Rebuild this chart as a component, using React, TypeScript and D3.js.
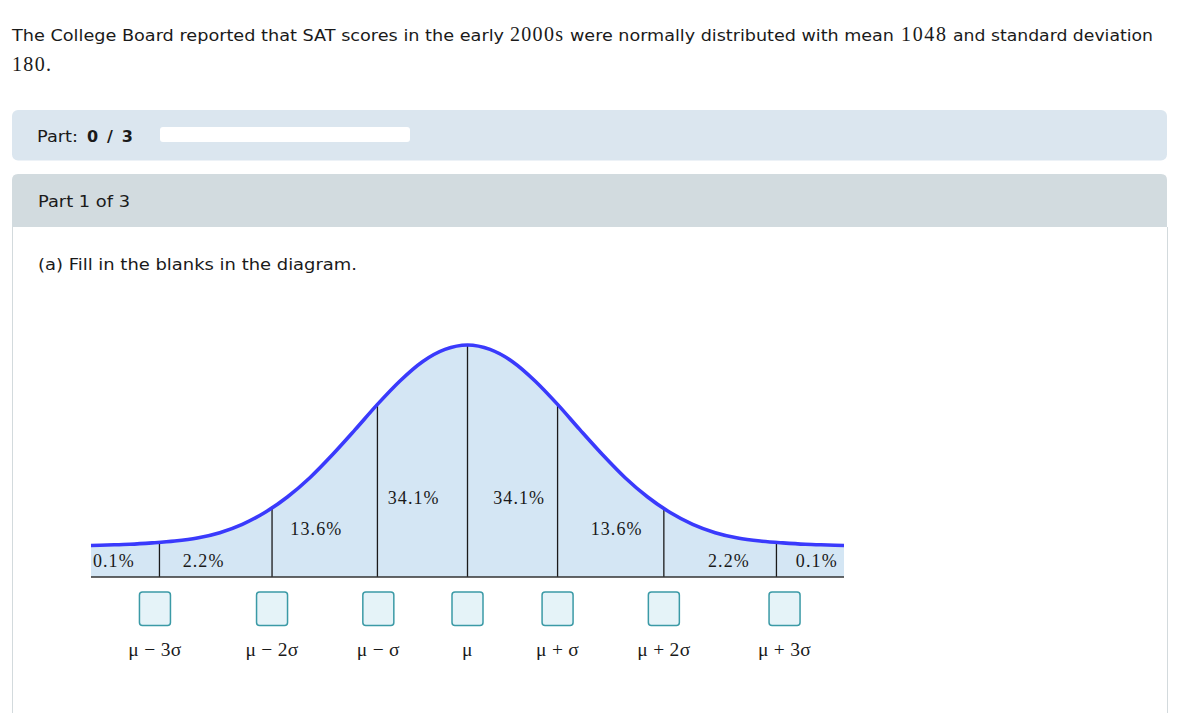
import React, { useEffect, useRef } from 'react';
import * as d3 from 'd3';

// ---- data ----
// horizontal position unit "u" (drawing units of the diagram), tick positions
const tickU = [-3.42, -2.17, -1, 0, 1, 2.18, 3.43];
const tickLabels = ['μ − 3σ', 'μ − 2σ', 'μ − σ', 'μ', 'μ + σ', 'μ + 2σ', 'μ + 3σ'];
const boxU = [-3.47, -2.17, -0.99, 0, 1.0, 2.18, 3.52];
const curveU = [-4.18, -4, -3.75, -3.5, -3.25, -3, -2.75, -2.5, -2.25, -2, -1.75, -1.5, -1.25, -1, -0.75, -0.5, -0.25, 0,
  0.25, 0.5, 0.75, 1, 1.25, 1.5, 1.75, 2, 2.25, 2.5, 2.75, 3, 3.25, 3.5, 3.75, 4, 4.18];
const curveH = [0.136, 0.138, 0.141, 0.147, 0.155, 0.168, 0.191, 0.227, 0.278, 0.345, 0.428, 0.527, 0.634, 0.744, 0.845, 0.928, 0.981, 1.0,
  0.981, 0.928, 0.845, 0.744, 0.634, 0.527, 0.428, 0.345, 0.278, 0.227, 0.191, 0.168, 0.155, 0.147, 0.141, 0.138, 0.136];
const segLabels = ['0.1%', '2.2%', '13.6%', '34.1%', '34.1%', '13.6%', '2.2%', '0.1%'];
const segLabelU = [-3.926, -2.93, -1.678, -0.597, 0.574, 1.656, 2.903, 3.878];
const segLabelH = [0.043, 0.043, 0.181, 0.315, 0.315, 0.181, 0.043, 0.043];

const SANS = '"DejaVu Sans", Verdana, sans-serif';
const SERIF = '"Liberation Serif", "Times New Roman", serif';

export default function App() {
  const ref = useRef<SVGSVGElement | null>(null);

  useEffect(() => {
    const svg = d3.select(ref.current);
    svg.selectAll('*').remove();

    // ---- page chrome ----
    const texts = [
      { t: 'The College Board reported that SAT scores in the early', x: 12, w: 492, f: SANS, s: 16, y: 41, b: false },
      { t: '2000s', x: 510, w: 53, f: SERIF, s: 20, y: 41, b: false },
      { t: 'were normally distributed with mean', x: 570, w: 324, f: SANS, s: 16, y: 41, b: false },
      { t: '1048', x: 901, w: 45, f: SERIF, s: 20, y: 41, b: false },
      { t: 'and standard deviation', x: 953, w: 200, f: SANS, s: 16, y: 41, b: false },
      { t: '180.', x: 12, w: 39, f: SERIF, s: 20, y: 71, b: false },
    ];

    // part bar
    svg.append('rect').attr('x', 12).attr('y', 110).attr('width', 1155).attr('height', 50.5)
      .attr('rx', 6).attr('fill', '#dbe6ef');
    svg.append('rect').attr('x', 160).attr('y', 127).attr('width', 250).attr('height', 15)
      .attr('rx', 3).attr('fill', '#ffffff');

    // part panel
    svg.append('path')
      .attr('d', 'M12,227 L12,180 Q12,174 18,174 L1161,174 Q1167,174 1167,180 L1167,227 Z')
      .attr('fill', '#d2dbdf');
    svg.append('line').attr('x1', 12.5).attr('x2', 12.5).attr('y1', 227).attr('y2', 713)
      .attr('stroke', '#d3dadd').attr('stroke-width', 1);
    svg.append('line').attr('x1', 1167.5).attr('x2', 1167.5).attr('y1', 227).attr('y2', 713)
      .attr('stroke', '#d3dadd').attr('stroke-width', 1);

    texts.push(
      { t: 'Part:', x: 37, w: 41, f: SANS, s: 16, y: 142, b: false },
      { t: '0 / 3', x: 87, w: 46, f: SANS, s: 16, y: 142, b: true },
      { t: 'Part 1 of 3', x: 38, w: 92, f: SANS, s: 16, y: 207, b: false },
      { t: '(a) Fill in the blanks in the diagram.', x: 38, w: 319, f: SANS, s: 16, y: 270, b: false },
    );

    svg.selectAll('text.para').data(texts).enter().append('text')
      .attr('class', 'para')
      .attr('x', d => d.x).attr('y', d => d.y)
      .attr('textLength', d => d.w)
      .attr('lengthAdjust', d => (d.f === SANS && !d.b ? 'spacingAndGlyphs' : 'spacing'))
      .attr('font-family', d => d.f).attr('font-size', d => d.s)
      .attr('font-weight', d => (d.b ? 'bold' : 'normal'))
      .attr('fill', '#1a1a1a').text(d => d.t);

    // ---- chart ----
    const x = d3.scaleLinear().domain([-4.18, 4.18]).range([91, 844]);
    const y = d3.scaleLinear().domain([0, 1]).range([577, 345]);
    const hAt = d3.scaleLinear().domain(curveU).range(curveH);

    const pts = curveU.map((u, i) => [u, curveH[i]] as [number, number]);
    const g = svg.append('g');

    const area = d3.area<[number, number]>()
      .x(d => x(d[0])).y0(y(0)).y1(d => y(d[1])).curve(d3.curveMonotoneX);
    g.append('path').attr('d', area(pts) as string).attr('fill', '#d4e6f4');

    g.selectAll('line.tick').data(tickU).enter().append('line')
      .attr('class', 'tick')
      .attr('x1', d => x(d)).attr('x2', d => x(d))
      .attr('y1', y(0)).attr('y2', d => y(hAt(d)) - 1)
      .attr('stroke', '#1a1a1a').attr('stroke-width', 1.3);

    g.append('line').attr('x1', x(-4.18)).attr('x2', x(4.18))
      .attr('y1', y(0)).attr('y2', y(0)).attr('stroke', '#333').attr('stroke-width', 1.6);

    g.selectAll('text.seg').data(segLabels).enter().append('text')
      .attr('class', 'seg')
      .attr('x', (d, i) => x(segLabelU[i])).attr('y', (d, i) => y(segLabelH[i]))
      .attr('text-anchor', 'middle')
      .attr('font-family', SERIF).attr('font-size', 18).attr('letter-spacing', 1.1)
      .attr('fill', '#1a1a1a').text(d => d);

    const line = d3.line<[number, number]>()
      .x(d => x(d[0])).y(d => y(d[1])).curve(d3.curveMonotoneX);
    g.append('path').attr('d', line(pts) as string)
      .attr('fill', 'none').attr('stroke', '#3a3afc').attr('stroke-width', 3.6);

    // answer boxes and labels
    g.selectAll('rect.box').data(boxU).enter().append('rect')
      .attr('class', 'box')
      .attr('x', d => x(d) - 15.5).attr('y', 592).attr('width', 31).attr('height', 33.5)
      .attr('rx', 3).attr('fill', '#e5f3f8').attr('stroke', '#3b9aa6').attr('stroke-width', 1.5);

    g.selectAll('text.tl').data(tickLabels).enter().append('text')
      .attr('class', 'tl')
      .attr('x', (d, i) => x(boxU[i])).attr('y', 656)
      .attr('text-anchor', 'middle')
      .attr('font-family', SERIF).attr('font-size', 19.5).attr('letter-spacing', 0.3)
      .attr('fill', '#1a1a1a').text(d => d);
  }, []);

  return (
    <svg ref={ref} width={1178} height={713}
      style={{ position: 'absolute', left: 0, top: 0, background: '#ffffff' }} />
  );
}
